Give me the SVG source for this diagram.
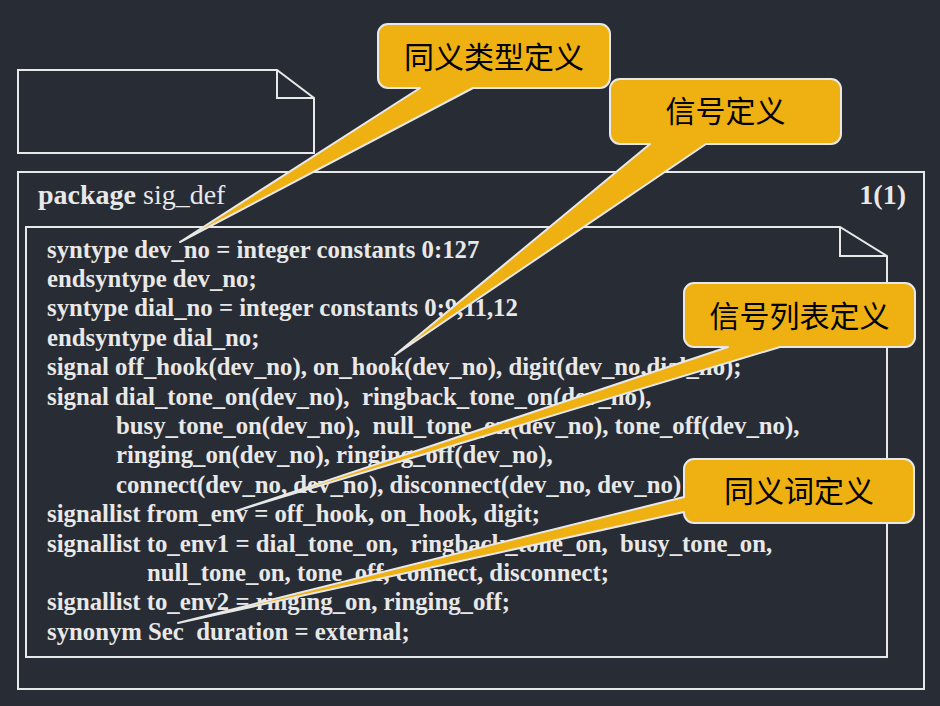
<svg xmlns="http://www.w3.org/2000/svg" width="940" height="706" viewBox="0 0 940 706">
<style>
.frame{fill:none;stroke:#e8e8e8;stroke-width:2}
.code{font-family:"Liberation Serif","Times New Roman",serif;font-size:24.75px;font-weight:bold;fill:#e8e8e8;white-space:pre}
.title{font-family:"Liberation Serif","Times New Roman",serif;font-size:28px;fill:#e8e8e8}
.callout{fill:#eeb111;stroke:#e8e8e8;stroke-width:2;stroke-linejoin:round}
.ctext{font-family:"Noto Sans CJK SC",sans-serif;font-size:30px;fill:#000;text-anchor:middle}
</style>
<rect width="940" height="706" fill="#282c35"/>
<g id="top-note">
<path class="frame" d="M18,70 H277 L314,98 V153 H18 Z M277,70 V98 H314"/>
</g>
<g id="package">
<rect class="frame" x="18" y="172" width="906" height="517"/>
<text class="title" x="38" y="204"><tspan font-weight="bold">package</tspan> sig_def</text>
<text class="title" x="906" y="204" font-weight="bold" font-size="26" text-anchor="end">1(1)</text>
</g>
<g id="code-note">
<path class="frame" d="M26,227 H840 L887,256 V657 H26 Z M840,227 V256 H887"/>
<text class="code" x="47" y="257.5">syntype dev_no = integer constants 0:127</text>
<text class="code" x="47" y="286.9">endsyntype dev_no;</text>
<text class="code" x="47" y="316.3">syntype dial_no = integer constants 0:9,11,12</text>
<text class="code" x="47" y="345.7">endsyntype dial_no;</text>
<text class="code" x="47" y="375.1">signal off_hook(dev_no), on_hook(dev_no), digit(dev_no,dial_no);</text>
<text class="code" x="47" y="404.5">signal dial_tone_on(dev_no),  ringback_tone_on(dev_no),</text>
<text class="code" x="116" y="433.9">busy_tone_on(dev_no),  null_tone_on(dev_no), tone_off(dev_no),</text>
<text class="code" x="116" y="463.3">ringing_on(dev_no), ringing_off(dev_no),</text>
<text class="code" x="116" y="492.7">connect(dev_no, dev_no), disconnect(dev_no, dev_no)</text>
<text class="code" x="47" y="522.1">signallist from_env = off_hook, on_hook, digit;</text>
<text class="code" x="47" y="551.5">signallist to_env1 = dial_tone_on,  ringback_tone_on,  busy_tone_on,</text>
<text class="code" x="147" y="580.9">null_tone_on, tone_off, connect, disconnect;</text>
<text class="code" x="47" y="610.3">signallist to_env2 = ringing_on, ringing_off;</text>
<text class="code" x="47" y="639.7">synonym Sec  duration = external;</text>
</g>
<g id="connectors">
<g id="callout-syntype">
<path class="callout" d="M388,24 H600 A10,10 0 0 1 610,34 V78 A10,10 0 0 1 600,88 H473 L180,242 L420,88 H388 A10,10 0 0 1 378,78 V34 A10,10 0 0 1 388,24 Z"/>
<text class="ctext" x="494" y="68">同义类型定义</text>
</g>
<g id="callout-signal">
<path class="callout" d="M620,79 H831 A10,10 0 0 1 841,89 V134 A10,10 0 0 1 831,144 H706 L395,355 L650,144 H620 A10,10 0 0 1 610,134 V89 A10,10 0 0 1 620,79 Z"/>
<text class="ctext" x="725.5" y="122">信号定义</text>
</g>
<g id="callout-signallist">
<path class="callout" d="M694,283 H905 A10,10 0 0 1 915,293 V337 A10,10 0 0 1 905,347 H780 L236,511 L728,347 H694 A10,10 0 0 1 684,337 V293 A10,10 0 0 1 694,283 Z"/>
<text class="ctext" x="799.5" y="327">信号列表定义</text>
</g>
<g id="callout-synonym">
<path class="callout" d="M694,459 H904 A10,10 0 0 1 914,469 V513 A10,10 0 0 1 904,523 H694 A10,10 0 0 1 684,513 V512 L178,623 L684,497 V469 A10,10 0 0 1 694,459 Z"/>
<text class="ctext" x="799" y="502">同义词定义</text>
</g>
</g>
</svg>
